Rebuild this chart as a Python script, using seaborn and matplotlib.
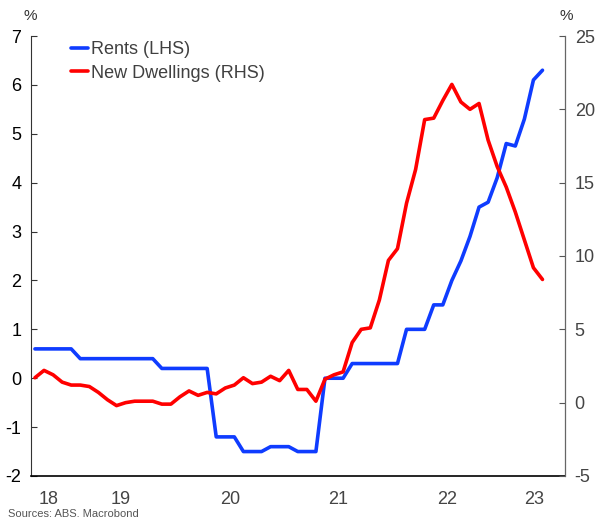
import matplotlib
matplotlib.use("Agg")
import matplotlib.pyplot as plt
from matplotlib.lines import Line2D
import seaborn as sns
import pandas as pd
import numpy as np

# monthly CPI indicator, annual % change, Sep 2018 - May 2023
months = pd.period_range("2018-09", "2023-05", freq="M")

rents = [0.6, 0.6, 0.6, 0.6, 0.6,
         0.4, 0.4, 0.4, 0.4, 0.4, 0.4, 0.4, 0.4, 0.4,
         0.2, 0.2, 0.2, 0.2, 0.2, 0.2,
         -1.2, -1.2, -1.2,
         -1.5, -1.5, -1.5,
         -1.4, -1.4, -1.4,
         -1.5, -1.5, -1.5,
         0.0, 0.0, 0.0,
         0.3, 0.3, 0.3, 0.3, 0.3, 0.3,
         1.0, 1.0, 1.0,
         1.5, 1.5,
         2.0, 2.4, 2.9, 3.5, 3.6, 4.1, 4.8, 4.75, 5.3, 6.1, 6.3]

new_dwellings = [1.7, 2.2, 1.9, 1.4, 1.2, 1.2, 1.1, 0.7, 0.2, -0.2,
                 0.0, 0.1, 0.1, 0.1, -0.1, -0.1, 0.4, 0.8, 0.5, 0.7,
                 0.6, 1.0, 1.2, 1.7, 1.3, 1.4, 1.8, 1.5, 2.2, 0.9,
                 0.9, 0.1, 1.6, 1.9, 2.1, 4.1, 5.0, 5.1, 7.0, 9.7,
                 10.5, 13.6, 15.9, 19.3, 19.4, 20.6, 21.7, 20.5, 20.0, 20.4,
                 17.9, 16.1, 14.7, 13.0, 11.1, 9.2, 8.4]

year_labels = ["18", "19", "20", "21", "22", "23"]
label_pos = [2018.836, 2019.5, 2020.5, 2021.5, 2022.5, 2023.3]
year_ticks = [2019, 2020, 2021, 2022, 2023]

df = pd.DataFrame({
    "x": months.year + (months.month - 0.5) / 12,
    "rents": rents,
    "new_dwellings": new_dwellings,
})

blue = "#0f3cff"
red = "#ff0000"

sns.set_style("white")
plt.rcParams['font.family'] = ['Liberation Sans', 'DejaVu Sans']
plt.rcParams['axes.unicode_minus'] = False

fig = plt.figure(figsize=(5.99, 5.21), dpi=100)
ax = fig.add_axes([31 / 599, 45 / 521, 534 / 599, 440 / 521])
ax2 = ax.twinx()

sns.lineplot(data=df, x="x", y="rents", ax=ax, color=blue, lw=2.6, legend=False)
sns.lineplot(data=df, x="x", y="new_dwellings", ax=ax2, color=red, lw=2.6, legend=False)

ax.set_xlim(2018.672, 2023.582)
ax.set_ylim(-2, 7)
ax2.set_ylim(-5, 25)
ax.set_yticks(range(-2, 8))
ax2.set_yticks(range(-5, 26, 5))
ax.set_xlabel("")
ax.set_ylabel("")
ax2.set_ylabel("")

ax.set_xticks(year_ticks)
ax.set_xticks(label_pos, minor=True)
ax.set_xticklabels([], minor=False)
ax.set_xticklabels(year_labels, minor=True)

ax.tick_params(axis='x', which='major', direction='in', length=5, width=0.8, color='#444')
ax.tick_params(axis='x', which='minor', length=0, pad=11, labelsize=13, labelcolor='#444')
ax.tick_params(axis='y', direction='in', length=4, width=0.8, pad=7, labelsize=13,
               labelcolor='black', color='#333', left=True)
ax2.tick_params(axis='y', direction='in', length=4, width=0.8, pad=7, labelsize=13,
                labelcolor='#444', color='#555', right=True)

for a in (ax, ax2):
    a.spines['top'].set_visible(False)
    a.grid(False)
ax.spines['left'].set_color('#333')
ax.spines['bottom'].set_color('black')
ax.spines['bottom'].set_linewidth(1.2)
ax2.spines['right'].set_color('#666')
ax2.spines['left'].set_visible(False)
ax2.spines['bottom'].set_visible(False)

handles = [Line2D([], [], color=blue, lw=2.6), Line2D([], [], color=red, lw=2.6)]
ax2.legend(handles, ["Rents (LHS)", "New Dwellings (RHS)"], loc='upper left',
           bbox_to_anchor=(0.045, 1.025), frameon=False, fontsize=13,
           handlelength=0.9, handletextpad=0.2, labelspacing=0.35, labelcolor='#404040')

fig.text(30 / 599, 1 - 16 / 521, "%", ha='center', va='center', fontsize=11, color='#333')
fig.text(566 / 599, 1 - 16 / 521, "%", ha='center', va='center', fontsize=11, color='#333')
fig.text(8 / 599, 1 - 514 / 521, "Sources: ABS. Macrobond", ha='left', va='center',
         fontsize=8, color='#555')

fig.savefig("out.png", dpi=100)
